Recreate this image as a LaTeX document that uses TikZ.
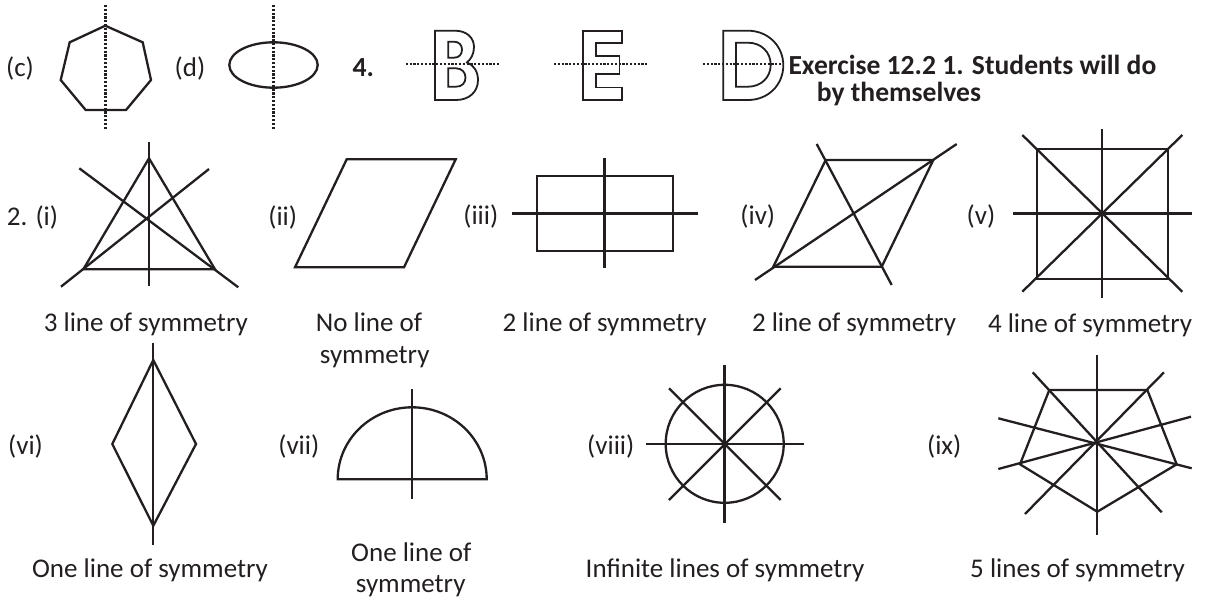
\documentclass[tikz,border=0pt]{standalone}
\usepackage{fontspec}
\setmainfont{Carlito}
\definecolor{ink}{RGB}{35,31,32}
\begin{document}
\begin{tikzpicture}[x=1pt,y=-1pt,
  outl/.style={draw=ink,line width=2.3pt,line join=miter},
  sym/.style={draw=ink,line width=2.3pt},
  dots/.style={draw=ink,line width=2.5pt,dash pattern=on 2.2pt off 1.6pt},
  letter/.style={draw=ink,line width=1.8pt,fill=white,even odd rule},
  lbl/.style={inner sep=0pt,anchor=base,text=ink,font=\fontsize{27}{32}\selectfont},
  lbll/.style={lbl,anchor=base west},
  bold/.style={inner sep=0pt,anchor=base west,text=ink,font=\fontsize{27.6}{32}\selectfont\bfseries}]
\useasboundingbox (0,0) rectangle (1205,600);
% ---- row 1 ----
\node[lbl] (lc) at (20,76) {(c)};
\draw[outl,fill=white] (105.3,25.7) -- (142.7,42.3) -- (151,80) -- (126,110) -- (85.7,110) -- (60.7,80) -- (69.7,42.3) -- cycle;
\coordinate (c1) at (105.3,5); \coordinate (c2) at (105.3,130);
\draw[dots] (c1) -- (c2);
\node[lbl] (ld) at (190,76) {(d)};
\draw[outl] (273.5,65) ellipse [x radius=44.2, y radius=22.7];
\coordinate (d1) at (273.3,5); \coordinate (d2) at (273.3,130);
\draw[dots] (d1) -- (d2);
\node[bold,anchor=base] (l4) at (363.3,76) {4.};
% B
\draw[letter] (435,30.7) -- (455,30.7) .. controls (467,30.7) and (474,38) .. (474,47)
  .. controls (474,54) and (471,59) .. (467,62.5)
  .. controls (474,65) and (478,72) .. (478,80)
  .. controls (478,92) and (469,100) .. (456,100) -- (435,100) -- cycle
  (448.3,41.7) -- (454,41.7) .. controls (459,41.7) and (462,45) .. (462,49.5)
  .. controls (462,54.5) and (459,57.7) .. (454,57.7) -- (448.3,57.7) -- cycle
  (448.3,68.3) -- (456,68.3) .. controls (462,68.3) and (465.5,72.5) .. (465.5,77.5)
  .. controls (465.5,83) and (462,86.7) .. (456,86.7) -- (448.3,86.7) -- cycle;
\coordinate (b1) at (405.7,64); \coordinate (b2) at (499,64);
\draw[dots] (b1) -- (b2);
% E
\draw[letter] (583.3,30.7) -- (621.7,30.7) -- (621.7,42.7) -- (596,42.7) -- (596,56) -- (619.5,56)
  -- (619.5,74) -- (596,74) -- (596,87.5) -- (621.7,87.5) -- (621.7,100) -- (583.3,100) -- cycle;
\coordinate (e1) at (554,64); \coordinate (e2) at (647.7,64);
\draw[dots] (e1) -- (e2);
% D
\draw[letter] (723.3,30.7) -- (748,30.7) .. controls (768,30.7) and (783.3,46) .. (783.3,65.3)
  .. controls (783.3,85) and (768,100) .. (748,100) -- (723.3,100) -- cycle
  (736,42.7) -- (748,42.7) .. controls (761,42.7) and (770.7,52) .. (770.7,64.7)
  .. controls (770.7,77.5) and (761,86.7) .. (748,86.7) -- (736,86.7) -- cycle;
\coordinate (D1) at (703,64); \coordinate (D2) at (783.3,64);
\draw[dots] (D1) -- (D2);
\node[bold] (ex1) at (788.3,74) {Exercise 12.2 1. Students will do};
\node[bold] (ex2) at (816.7,101.7) {by themselves};
% ---- row 2 ----
\node[lbll] (l2i) at (6.7,225) {2. (i)};
\draw[outl] (149,158.3) -- (83.3,269.3) -- (215,269.3) -- cycle;
\draw[sym] (149,141.7) -- (149,285.7);
\draw[sym] (61,286.7) -- (209,169);
\draw[sym] (238.3,287.3) -- (79.3,168.3);
\node[lbl] (t1) at (145.8,331.7) {3 line of symmetry};
\node[lbl] (lii) at (282.7,225) {(ii)};
\draw[outl] (346.7,159.3) -- (455.7,159.3) -- (404,267.3) -- (295,267.3) -- cycle;
\node[lbl] (t2a) at (369,331.7) {No line of};
\node[lbl] (t2b) at (374.7,363.3) {symmetry};
\node[lbl] (liii) at (480.8,224) {(iii)};
\draw[outl] (536.7,176) rectangle (672.7,251);
\draw[sym] (511.7,213.5) -- (698.3,213.5);
\draw[sym] (604.5,158.3) -- (604.5,268.3);
\node[lbl] (t3) at (604.7,331.5) {2 line of symmetry};
\node[lbl] (liv) at (757.8,224) {(iv)};
\draw[outl] (825.7,160) -- (933.3,160) -- (881.7,266.7) -- (773.3,266.7) -- cycle;
\draw[sym] (755,280) -- (956.7,144);
\draw[sym] (816.7,144) -- (891.7,285);
\node[lbl] (t4) at (854,331.5) {2 line of symmetry};
\node[lbl] (lv) at (981,224) {(v)};
\draw[outl] (1036.7,149) rectangle (1167.7,279);
\draw[sym] (1102.3,129.3) -- (1102.3,297.7);
\draw[sym] (1013.3,213.5) -- (1191.7,213.5);
\draw[sym] (1022.3,135) -- (1182.3,291.7);
\draw[sym] (1182.3,135) -- (1022.3,291.7);
\node[lbl] (t5) at (1090,332) {4 line of symmetry};
% ---- row 3 ----
\node[lbl] (lvi) at (25.5,454.3) {(vi)};
\draw[outl] (153.3,360) -- (196,444) -- (153.3,525.7) -- (112.3,444) -- cycle;
\draw[sym] (153.3,342.7) -- (153.3,545);
\node[lbl] (t6) at (150,577.3) {One line of symmetry};
\node[lbl] (lvii) at (298.8,454.3) {(vii)};
\draw[outl] (337.7,479.3) arc[start angle=180, end angle=360, x radius=74.5, y radius=72] -- cycle;
\draw[sym] (412.3,389.3) -- (412.3,499.3);
\node[lbl] (t7a) at (411.3,561.7) {One line of};
\node[lbl] (t7b) at (410.7,592.3) {symmetry};
\node[lbl] (lviii) at (610.8,454.3) {(viii)};
\draw[outl] (724.7,443.8) circle[radius=59];
\draw[sym] (646,444) -- (804,444);
\draw[sym] (724.5,365) -- (724.5,522.7);
\draw[sym] (669,388.3) -- (780.7,500);
\draw[sym] (780.7,388.3) -- (669,500);
\node[lbl] (t8) at (725,577.3) {Infinite lines of symmetry};
\node[lbl] (lix) at (944.2,454.3) {(ix)};
\draw[outl] (1049.3,390) -- (1147.3,390) -- (1176.7,464.3) -- (1097.3,511.7) -- (1020,464.3) -- cycle;
\draw[sym] (1096.9,355) -- (1096.9,535);
\draw[sym] (1032.7,372.3) -- (1161.7,512.3);
\draw[sym] (1164,372.3) -- (1025,514);
\draw[sym] (998.3,418.3) -- (1191.7,468.3);
\draw[sym] (998.3,469) -- (1191,416.7);
\node[lbl] (t9) at (1077.5,577.3) {5 lines of symmetry};
\end{tikzpicture}
\end{document}
